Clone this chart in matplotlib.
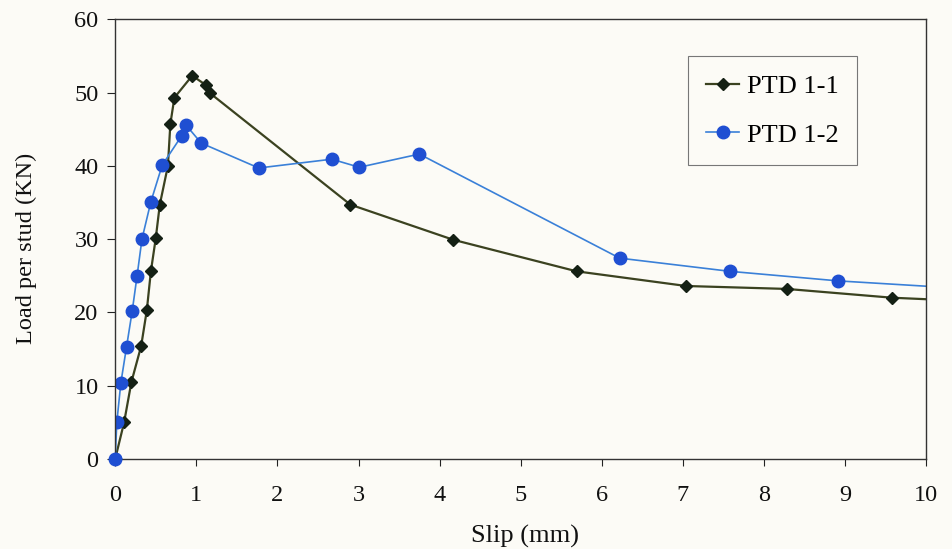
import numpy as np
import matplotlib
matplotlib.use('Agg')
import matplotlib.pyplot as plt

# PTD 1-1 (diamonds)
slip_11 = [0.0, 0.11, 0.20, 0.32, 0.39, 0.44, 0.50, 0.55, 0.65, 0.68, 0.73, 0.95, 1.12, 1.17,
           2.90, 4.17, 5.69, 7.04, 8.28, 9.58, 10.4]
load_11 = [0.0, 5.0, 10.5, 15.4, 20.3, 25.6, 30.1, 34.7, 40.0, 45.7, 49.3, 52.3, 51.0, 49.9,
           34.7, 29.9, 25.6, 23.6, 23.2, 22.0, 21.6]

# PTD 1-2 (circles)
slip_12 = [0.0, 0.02, 0.07, 0.14, 0.21, 0.27, 0.33, 0.44, 0.58, 0.82, 0.87, 1.06, 1.77,
           2.67, 3.01, 3.75, 6.22, 7.58, 8.91, 10.4]
load_12 = [0.0, 5.0, 10.4, 15.3, 20.2, 25.0, 30.0, 35.1, 40.1, 44.1, 45.6, 43.1, 39.7,
           40.9, 39.8, 41.6, 27.4, 25.6, 24.3, 23.3]

x_ticks = list(range(0, 11))
y_ticks = list(range(0, 61, 10))

plt.rcParams['font.family'] = ['Liberation Serif', 'DejaVu Serif']

bg = '#fcfbf6'
fig = plt.figure(figsize=(9.52, 5.49), dpi=100, facecolor=bg)
ax = fig.add_axes([0.121, 0.164, 0.852, 0.801])
ax.set_facecolor(bg)

n11 = len(slip_11) - 1
n12 = len(slip_12) - 1

ax.plot(slip_11, load_11, color='#3b4220', lw=1.6, marker='D', ms=6.3,
        mfc='#142014', mec='#142014', markevery=list(range(n11)), label='PTD 1-1')
ax.plot(slip_12, load_12, color='#3a80d8', lw=1.2, marker='o', ms=9,
        mfc='#1f4fd2', mec='#1f4fd2', markevery=list(range(n12)), label='PTD 1-2')
# markers at the axis corner are not clipped
ax.plot(slip_11[:1], load_11[:1], 'D', ms=6.3, color='#142014', clip_on=False)
ax.plot(slip_12[:1], load_12[:1], 'o', ms=9, color='#1f4fd2', clip_on=False, zorder=5)

ax.set_xlim(0, 10)
ax.set_ylim(0, 60)
ax.set_xticks(x_ticks)
ax.set_yticks(y_ticks)

for s in ax.spines.values():
    s.set_color('#333333')
    s.set_linewidth(1.0)

ax.tick_params(axis='x', direction='out', length=5, width=0.8, pad=14,
               labelsize=17.5, colors='#222222', labelcolor='#111111')
ax.tick_params(axis='y', direction='out', length=6, width=0.8, pad=6,
               labelsize=17.5, colors='#222222', labelcolor='#111111')

ax.set_xlabel('Slip (mm)', fontsize=19, color='#111111')
ax.set_ylabel('Load per stud (KN)', fontsize=17.5, color='#111111')
ax.xaxis.set_label_coords(0.505, -0.15)
ax.yaxis.set_label_coords(-0.096, 0.48)

leg = ax.legend(loc='upper left', bbox_to_anchor=(0.706, 0.916), borderaxespad=0,
                fontsize=19, frameon=True, fancybox=False, borderpad=0.7,
                labelspacing=0.95, handlelength=1.25, handletextpad=0.3)
leg.get_frame().set_edgecolor('#777777')
leg.get_frame().set_linewidth(0.8)
leg.get_frame().set_facecolor(bg)
leg.get_frame().set_alpha(1)

fig.savefig('out.png', dpi=100, facecolor=bg)
